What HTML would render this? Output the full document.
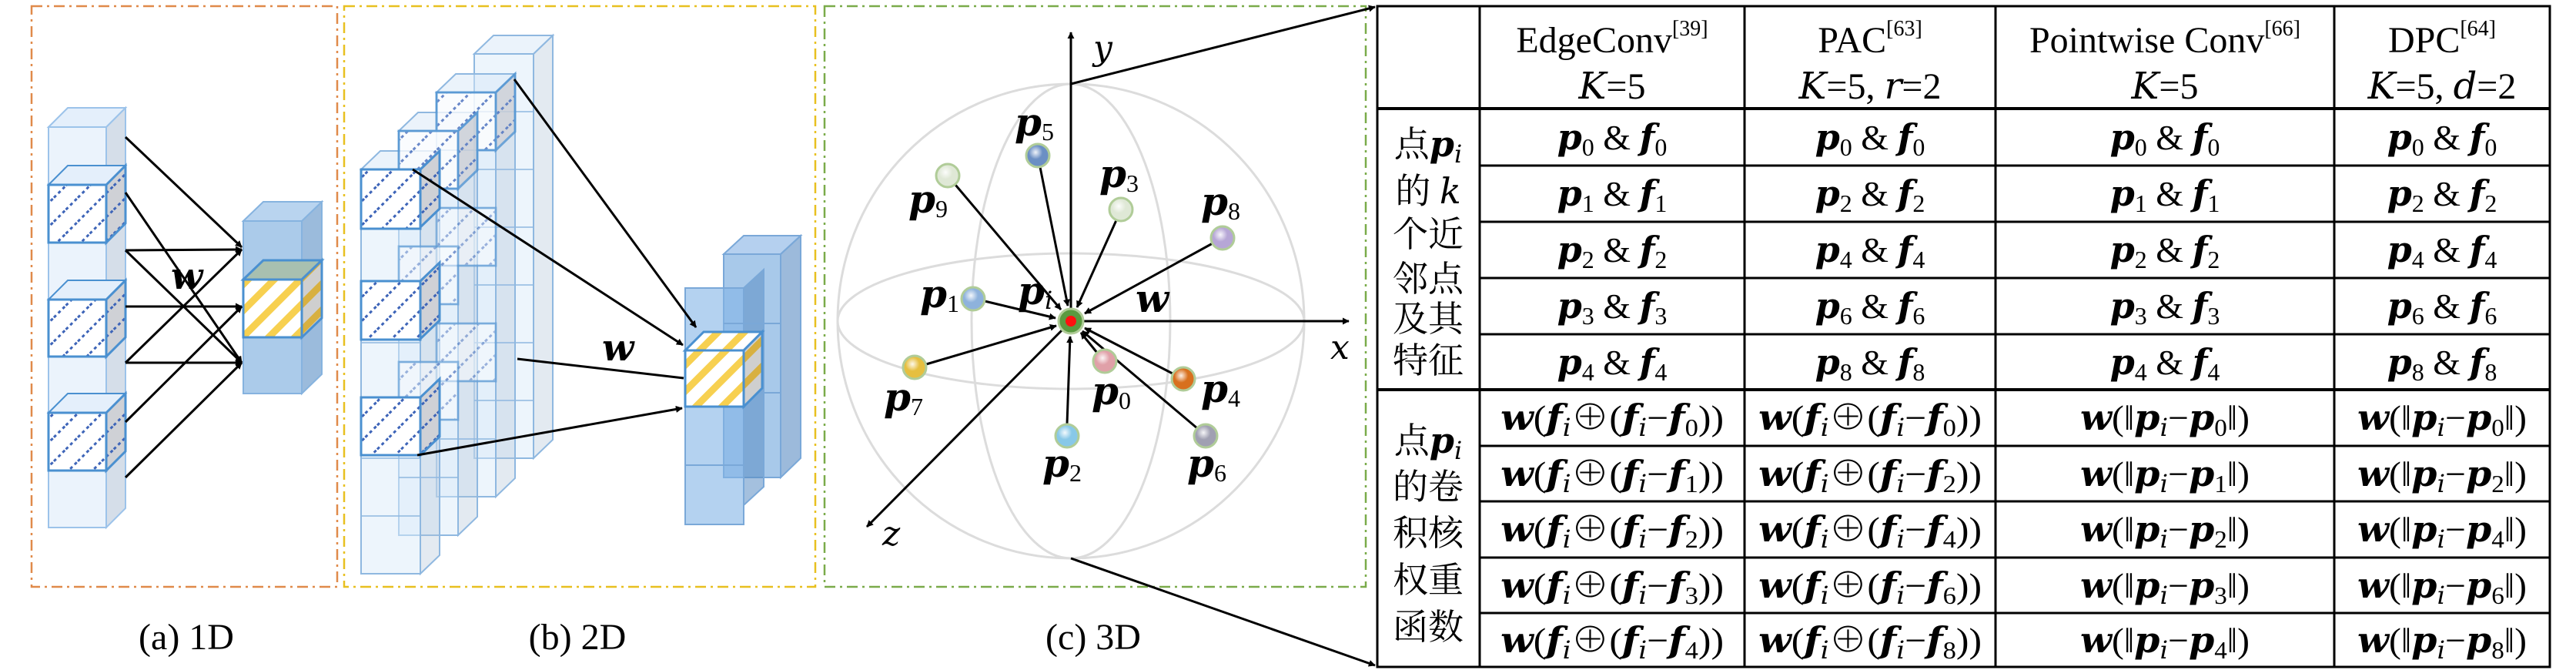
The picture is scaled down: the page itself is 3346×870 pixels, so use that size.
<!DOCTYPE html>
<html><head><meta charset="utf-8"><style>
html,body{margin:0;padding:0;background:#fff}
svg{display:block}
svg, svg text, svg tspan{font-family:"Liberation Serif","Times New Roman","Noto Serif CJK SC",serif}
text{fill:#000}
svg .bi{font-family:"DejaVu Serif","Liberation Serif",serif;font-weight:bold;font-style:italic}
svg .i{font-family:"DejaVu Serif","Liberation Serif",serif;font-style:italic}
.s{font-size:32px}
.cn{font-size:46px}
</style></head><body>
<svg width="3346" height="870" viewBox="0 0 3346 870" xmlns="http://www.w3.org/2000/svg" font-family="Liberation Serif, Times New Roman, Noto Serif CJK SC, serif">
<defs>
<marker id="ah" viewBox="0 0 10 10" refX="9" refY="5" markerWidth="9" markerHeight="9" markerUnits="userSpaceOnUse" orient="auto"><path d="M0,0 L10,5 L0,10 z" fill="#000"/></marker>
<pattern id="hatch" width="22" height="22" patternUnits="userSpaceOnUse" patternTransform="rotate(-45)"><rect width="22" height="22" fill="#fff"/><line x1="0" y1="11" x2="22" y2="11" stroke="#3d64b8" stroke-width="3" stroke-dasharray="4 4"/></pattern>
<pattern id="hatchg" width="22" height="22" patternUnits="userSpaceOnUse" patternTransform="rotate(-45)"><rect width="22" height="22" fill="#cfd1d6"/><line x1="0" y1="11" x2="22" y2="11" stroke="#3d64b8" stroke-width="3" stroke-dasharray="4 4"/></pattern>
<pattern id="yel" width="24" height="24" patternUnits="userSpaceOnUse" patternTransform="rotate(-45)"><rect width="24" height="24" fill="#fff"/><rect y="0" width="24" height="9" fill="#f7d050"/></pattern>
<pattern id="yelg" width="24" height="24" patternUnits="userSpaceOnUse" patternTransform="rotate(-45)"><rect width="24" height="24" fill="#cfcfcf"/><rect y="0" width="24" height="9" fill="#d8b040"/></pattern>
<radialGradient id="g" cx="40%" cy="35%" r="65%"><stop offset="0" stop-color="#fff" stop-opacity=".9"/><stop offset=".5" stop-color="#fff" stop-opacity="0"/></radialGradient>
</defs>

<rect x="41" y="8" width="397" height="754" fill="none" stroke="#e08a4a" stroke-width="2.5" stroke-dasharray="14 6 3 6"/>
<rect x="447" y="8" width="612" height="754" fill="none" stroke="#e8c020" stroke-width="2.5" stroke-dasharray="14 6 3 6"/>
<rect x="1071" y="8" width="703" height="754" fill="none" stroke="#7aab4a" stroke-width="2.5" stroke-dasharray="14 6 3 6"/>

<!-- Panel a -->
<g stroke="#9cc3ea" stroke-width="2">
<polygon points="138,165 163,140 163,660 138,685" fill="#d5dee9"/>
<polygon points="63,165 88,140 163,140 138,165" fill="#e4effb"/>
<rect x="63" y="165" width="75" height="520" fill="#ebf3fc"/>
</g>
<g stroke="#4a90d0" stroke-width="3">
<polygon points="63,240 88,215 163,215 138,240" fill="#e4effb" stroke-width="2"/>
<polygon points="138,240 163,215 163,290 138,315" fill="url(#hatchg)"/>
<rect x="63" y="240" width="75" height="75" fill="url(#hatch)"/>
<polygon points="63,389 88,364 163,364 138,389" fill="#e4effb" stroke-width="2"/>
<polygon points="138,389 163,364 163,438 138,463" fill="url(#hatchg)"/>
<rect x="63" y="389" width="75" height="74" fill="url(#hatch)"/>
<polygon points="63,536 88,511 163,511 138,536" fill="#e4effb" stroke-width="2"/>
<polygon points="138,536 163,511 163,586 138,611" fill="url(#hatchg)"/>
<rect x="63" y="536" width="75" height="75" fill="url(#hatch)"/>
</g>
<g stroke="#86b3df" stroke-width="2">
<polygon points="392,287 418,262 418,486 392,511" fill="#9bbbdc"/>
<polygon points="316,287 342,262 418,262 392,287" fill="#b9d4ef"/>
<rect x="316" y="287" width="76" height="224" fill="#abcbea"/>
</g>
<g stroke="#4a90d0" stroke-width="3">
<polygon points="316,363 342,338 418,338 392,363" fill="#a8c0b0"/>
<polygon points="392,363 418,338 418,413 392,438" fill="url(#yelg)"/>
<rect x="316" y="363" width="76" height="75" fill="url(#yel)"/>
</g>
<g stroke="#000" stroke-width="3" marker-end="url(#ah)">
<line x1="163" y1="178" x2="314" y2="321"/>
<line x1="163" y1="250" x2="314" y2="471"/>
<line x1="163" y1="325" x2="314" y2="324"/>
<line x1="163" y1="325" x2="314" y2="471"/>
<line x1="163" y1="398" x2="314" y2="398"/>
<line x1="163" y1="471" x2="314" y2="471"/>
<line x1="163" y1="471" x2="314" y2="324"/>
<line x1="163" y1="548" x2="314" y2="398"/>
<line x1="163" y1="620" x2="314" y2="471"/>
</g>
<text x="222" y="375" class="bi" font-size="48">w</text>
<text x="242" y="843" font-size="48" text-anchor="middle">(a)  1D</text>

<!-- Panel b -->
<g stroke="#8fb8e0" stroke-width="2">
<polygon points="693,70 718,46 718,571 693,595" fill="rgba(175,195,215,.35)"/>
<polygon points="616,70 641,46 718,46 693,70" fill="rgba(215,232,248,.5)"/>
<rect x="616" y="70" width="77" height="525" fill="rgba(215,232,248,.45)"/>
<polygon points="644,120 669,96 669,621 644,645" fill="rgba(175,195,215,.35)"/>
<polygon points="567,120 592,96 669,96 644,120" fill="rgba(215,232,248,.5)"/>
<rect x="567" y="120" width="77" height="525" fill="rgba(215,232,248,.45)"/>
<polygon points="595,170 620,146 620,671 595,695" fill="rgba(175,195,215,.35)"/>
<polygon points="518,170 543,146 620,146 595,170" fill="rgba(215,232,248,.5)"/>
<rect x="518" y="170" width="77" height="525" fill="rgba(215,232,248,.45)"/>
<polygon points="546,220 571,196 571,721 546,745" fill="rgba(175,195,215,.35)"/>
<polygon points="469,220 494,196 571,196 546,220" fill="rgba(215,232,248,.5)"/>
<rect x="469" y="220" width="77" height="525" fill="rgba(220,235,250,.5)"/>
</g>
<g stroke="#8fb8e0" stroke-width="1.5" fill="none">
<path d="M616,145 h77 M616,220 h77 M616,295 h77 M616,370 h77 M616,445 h77 M616,520 h77"/>
<path d="M567,195 h77 M567,270 h77 M567,345 h77 M567,420 h77 M567,495 h77 M567,570 h77"/>
<path d="M518,245 h77 M518,320 h77 M518,395 h77 M518,470 h77 M518,545 h77 M518,620 h77"/>
<path d="M469,295 h77 M469,370 h77 M469,445 h77 M469,520 h77 M469,595 h77 M469,670 h77"/>
</g>
<g stroke="#4a90d0" stroke-width="3" opacity=".75">
<rect x="567" y="120" width="77" height="75" fill="url(#hatch)"/>
<polygon points="644,120 669,96 669,171 644,195" fill="url(#hatchg)"/>
<rect x="567" y="270" width="77" height="75" fill="url(#hatch)" opacity=".6"/>
<rect x="567" y="420" width="77" height="75" fill="url(#hatch)" opacity=".6"/>
<rect x="518" y="170" width="77" height="75" fill="url(#hatch)"/>
<polygon points="595,170 620,146 620,221 595,245" fill="url(#hatchg)"/>
<rect x="518" y="320" width="77" height="75" fill="url(#hatch)" opacity=".6"/>
<rect x="518" y="470" width="77" height="75" fill="url(#hatch)" opacity=".6"/>
</g>
<g stroke="#4a90d0" stroke-width="3">
<polygon points="546,220 571,196 571,271 546,295" fill="url(#hatchg)"/>
<rect x="469" y="220" width="77" height="77" fill="url(#hatch)"/>
<polygon points="546,365 571,341 571,416 546,440" fill="url(#hatchg)"/>
<rect x="469" y="365" width="77" height="76" fill="url(#hatch)"/>
<polygon points="546,516 571,492 571,567 546,591" fill="url(#hatchg)"/>
<rect x="469" y="516" width="77" height="75" fill="url(#hatch)"/>
</g>
<g stroke="#7aa8d8" stroke-width="2">
<polygon points="940,330 966,306 1040,306 1014,330" fill="rgba(120,170,225,.55)"/>
<polygon points="1014,330 1040,306 1040,595 1014,620" fill="rgba(90,140,195,.6)"/>
<rect x="940" y="330" width="74" height="290" fill="rgba(110,165,220,.6)"/>
<polygon points="966,374 992,350 992,632 966,656" fill="rgba(90,140,195,.55)"/>
<rect x="890" y="374" width="76" height="307" fill="rgba(130,180,230,.6)"/>
<path d="M890,528 h76 M890,604 h76 M940,420 h74 M940,510 h74" fill="none"/>
</g>
<g stroke="#4a90d0" stroke-width="3">
<polygon points="890,455 914,431 990,431 966,455" fill="url(#yel)"/>
<polygon points="966,455 990,431 990,504 966,528" fill="url(#yelg)"/>
<rect x="890" y="455" width="76" height="73" fill="url(#yel)"/>
</g>
<g stroke="#000" stroke-width="3">
<line x1="668" y1="103" x2="904" y2="425" marker-end="url(#ah)"/>
<line x1="536" y1="220" x2="887" y2="448" marker-end="url(#ah)"/>
<line x1="672" y1="466" x2="888" y2="491"/>
<line x1="542" y1="591" x2="886" y2="530" marker-end="url(#ah)"/>
</g>
<text x="782" y="468" class="bi" font-size="48">w</text>
<text x="750" y="843" font-size="48" text-anchor="middle">(b)  2D</text>

<!-- Panel c -->
<g fill="none" stroke="#dcdcdc" stroke-width="3">
<ellipse cx="1391" cy="417" rx="303" ry="308"/>
<ellipse cx="1391" cy="417" rx="303" ry="88"/>
<ellipse cx="1391" cy="417" rx="129" ry="308"/>
</g>
<g stroke="#000" stroke-width="3" marker-end="url(#ah)">
<line x1="1391" y1="417" x2="1391" y2="42"/>
<line x1="1391" y1="417" x2="1752" y2="417"/>
<line x1="1391" y1="417" x2="1126" y2="684"/>
<line x1="1351" y1="217" x2="1387" y2="397"/>
<line x1="1241" y1="240" x2="1378" y2="402"/>
<line x1="1450" y1="286" x2="1399" y2="399"/>
<line x1="1575" y1="316" x2="1409" y2="407"/>
<line x1="1279" y1="391" x2="1371" y2="413"/>
<line x1="1203" y1="473" x2="1372" y2="423"/>
<line x1="1386" y1="551" x2="1390" y2="437"/>
<line x1="1425" y1="458" x2="1404" y2="432"/>
<line x1="1523" y1="485" x2="1409" y2="426"/>
<line x1="1555" y1="556" x2="1406" y2="430"/>
</g>
<g stroke="#b0cc98" stroke-width="3">
<circle cx="1348" cy="202" r="15" fill="#6b8fc4"/>
<circle cx="1231" cy="228" r="15" fill="#dfe8d6"/>
<circle cx="1456" cy="272" r="15" fill="#dfe8d6"/>
<circle cx="1588" cy="309" r="15" fill="#b6a6d6"/>
<circle cx="1264" cy="388" r="15" fill="#8eb2dc"/>
<circle cx="1188" cy="477" r="15" fill="#e6bf40"/>
<circle cx="1435" cy="469" r="15" fill="#e0a0a8"/>
<circle cx="1537" cy="492" r="15" fill="#d8701e"/>
<circle cx="1386" cy="566" r="15" fill="#88c8e8"/>
<circle cx="1566" cy="566" r="15" fill="#a0a0b2"/>
<circle cx="1391" cy="417" r="16" fill="#5a9a40"/>
</g>
<g fill="url(#g)">
<circle cx="1348" cy="202" r="14"/><circle cx="1231" cy="228" r="14"/><circle cx="1456" cy="272" r="14"/><circle cx="1588" cy="309" r="14"/><circle cx="1264" cy="388" r="14"/><circle cx="1188" cy="477" r="14"/><circle cx="1435" cy="469" r="14"/><circle cx="1537" cy="492" r="14"/><circle cx="1386" cy="566" r="14"/><circle cx="1566" cy="566" r="14"/>
</g>
<circle cx="1391" cy="417" r="7" fill="#ff1010"/>
<g font-size="50">
<text x="1318" y="176"><tspan class="bi">p</tspan><tspan class="s" dy="6">5</tspan></text>
<text x="1180" y="276"><tspan class="bi">p</tspan><tspan class="s" dy="6">9</tspan></text>
<text x="1428" y="243"><tspan class="bi">p</tspan><tspan class="s" dy="6">3</tspan></text>
<text x="1560" y="279"><tspan class="bi">p</tspan><tspan class="s" dy="6">8</tspan></text>
<text x="1195" y="399"><tspan class="bi">p</tspan><tspan class="s" dy="6">1</tspan></text>
<text x="1322" y="395"><tspan class="bi">p</tspan><tspan class="s i" dy="6">i</tspan></text>
<text x="1475" y="405" class="bi">w</text>
<text x="1148" y="533"><tspan class="bi">p</tspan><tspan class="s" dy="6">7</tspan></text>
<text x="1418" y="525"><tspan class="bi">p</tspan><tspan class="s" dy="6">0</tspan></text>
<text x="1560" y="522"><tspan class="bi">p</tspan><tspan class="s" dy="6">4</tspan></text>
<text x="1354" y="619"><tspan class="bi">p</tspan><tspan class="s" dy="6">2</tspan></text>
<text x="1542" y="619"><tspan class="bi">p</tspan><tspan class="s" dy="6">6</tspan></text>
<text x="1420" y="77" class="i" font-size="44">y</text>
<text x="1728" y="466" class="i" font-size="44">x</text>
<text x="1146" y="708" class="i" font-size="44">z</text>
</g>
<text x="1420" y="843" font-size="48" text-anchor="middle">(c)  3D</text>
<g stroke="#000" stroke-width="3" marker-end="url(#ah)">
<line x1="1391" y1="109" x2="1786" y2="9"/>
<line x1="1391" y1="725" x2="1786" y2="864"/>
</g>

<!-- Table -->
<g stroke="#000" stroke-width="3" fill="none">
<rect x="1789" y="8" width="1523" height="858"/>
<line x1="1922" y1="8" x2="1922" y2="866"/>
<line x1="2266" y1="8" x2="2266" y2="866"/>
<line x1="2592" y1="8" x2="2592" y2="866"/>
<line x1="3032" y1="8" x2="3032" y2="866"/>
<line x1="1789" y1="141" x2="3312" y2="141" stroke-width="4"/>
<line x1="1789" y1="506" x2="3312" y2="506" stroke-width="4"/>
<path d="M1922,215 H3312 M1922,288 H3312 M1922,361 H3312 M1922,434 H3312 M1922,579 H3312 M1922,651 H3312 M1922,724 H3312 M1922,796 H3312"/>
</g>
<g font-size="48" text-anchor="middle">
<text x="2094" y="68">EdgeConv<tspan font-size="28" dy="-22">[39]</tspan></text>
<text x="2094" y="128"><tspan class="i">K</tspan>=5</text>
<text x="2429" y="68">PAC<tspan font-size="28" dy="-22">[63]</tspan></text>
<text x="2429" y="128"><tspan class="i">K</tspan>=5, <tspan class="i">r</tspan>=2</text>
<text x="2812" y="68">Pointwise Conv<tspan font-size="28" dy="-22">[66]</tspan></text>
<text x="2812" y="128"><tspan class="i">K</tspan>=5</text>
<text x="3172" y="68">DPC<tspan font-size="28" dy="-22">[64]</tspan></text>
<text x="3172" y="128"><tspan class="i">K</tspan>=5, <tspan class="i">d</tspan>=2</text>
</g>
<g class="cn" text-anchor="middle" font-size="46">
<text x="1855" y="203">点<tspan class="bi">p</tspan><tspan class="s i" dy="8">i</tspan></text>
<text x="1855" y="264">的 <tspan class="i">k</tspan></text>
<text x="1855" y="320">个近</text>
<text x="1855" y="378">邻点</text>
<text x="1855" y="430">及其</text>
<text x="1855" y="484">特征</text>
<text x="1855" y="588">点<tspan class="bi">p</tspan><tspan class="s i" dy="8">i</tspan></text>
<text x="1855" y="648">的卷</text>
<text x="1855" y="708">积核</text>
<text x="1855" y="769">权重</text>
<text x="1855" y="830">函数</text>
</g>
<g font-size="46" text-anchor="middle">
<text x="2094" y="194"><tspan class="bi">p</tspan><tspan class="s" dy="8">0</tspan><tspan dy="-8"> &amp; </tspan><tspan class="bi">f</tspan><tspan class="s" dy="8">0</tspan></text>
<text x="2094" y="267"><tspan class="bi">p</tspan><tspan class="s" dy="8">1</tspan><tspan dy="-8"> &amp; </tspan><tspan class="bi">f</tspan><tspan class="s" dy="8">1</tspan></text>
<text x="2094" y="340"><tspan class="bi">p</tspan><tspan class="s" dy="8">2</tspan><tspan dy="-8"> &amp; </tspan><tspan class="bi">f</tspan><tspan class="s" dy="8">2</tspan></text>
<text x="2094" y="413"><tspan class="bi">p</tspan><tspan class="s" dy="8">3</tspan><tspan dy="-8"> &amp; </tspan><tspan class="bi">f</tspan><tspan class="s" dy="8">3</tspan></text>
<text x="2094" y="486"><tspan class="bi">p</tspan><tspan class="s" dy="8">4</tspan><tspan dy="-8"> &amp; </tspan><tspan class="bi">f</tspan><tspan class="s" dy="8">4</tspan></text>
<text x="2429" y="194"><tspan class="bi">p</tspan><tspan class="s" dy="8">0</tspan><tspan dy="-8"> &amp; </tspan><tspan class="bi">f</tspan><tspan class="s" dy="8">0</tspan></text>
<text x="2429" y="267"><tspan class="bi">p</tspan><tspan class="s" dy="8">2</tspan><tspan dy="-8"> &amp; </tspan><tspan class="bi">f</tspan><tspan class="s" dy="8">2</tspan></text>
<text x="2429" y="340"><tspan class="bi">p</tspan><tspan class="s" dy="8">4</tspan><tspan dy="-8"> &amp; </tspan><tspan class="bi">f</tspan><tspan class="s" dy="8">4</tspan></text>
<text x="2429" y="413"><tspan class="bi">p</tspan><tspan class="s" dy="8">6</tspan><tspan dy="-8"> &amp; </tspan><tspan class="bi">f</tspan><tspan class="s" dy="8">6</tspan></text>
<text x="2429" y="486"><tspan class="bi">p</tspan><tspan class="s" dy="8">8</tspan><tspan dy="-8"> &amp; </tspan><tspan class="bi">f</tspan><tspan class="s" dy="8">8</tspan></text>
<text x="2812" y="194"><tspan class="bi">p</tspan><tspan class="s" dy="8">0</tspan><tspan dy="-8"> &amp; </tspan><tspan class="bi">f</tspan><tspan class="s" dy="8">0</tspan></text>
<text x="2812" y="267"><tspan class="bi">p</tspan><tspan class="s" dy="8">1</tspan><tspan dy="-8"> &amp; </tspan><tspan class="bi">f</tspan><tspan class="s" dy="8">1</tspan></text>
<text x="2812" y="340"><tspan class="bi">p</tspan><tspan class="s" dy="8">2</tspan><tspan dy="-8"> &amp; </tspan><tspan class="bi">f</tspan><tspan class="s" dy="8">2</tspan></text>
<text x="2812" y="413"><tspan class="bi">p</tspan><tspan class="s" dy="8">3</tspan><tspan dy="-8"> &amp; </tspan><tspan class="bi">f</tspan><tspan class="s" dy="8">3</tspan></text>
<text x="2812" y="486"><tspan class="bi">p</tspan><tspan class="s" dy="8">4</tspan><tspan dy="-8"> &amp; </tspan><tspan class="bi">f</tspan><tspan class="s" dy="8">4</tspan></text>
<text x="3172" y="194"><tspan class="bi">p</tspan><tspan class="s" dy="8">0</tspan><tspan dy="-8"> &amp; </tspan><tspan class="bi">f</tspan><tspan class="s" dy="8">0</tspan></text>
<text x="3172" y="267"><tspan class="bi">p</tspan><tspan class="s" dy="8">2</tspan><tspan dy="-8"> &amp; </tspan><tspan class="bi">f</tspan><tspan class="s" dy="8">2</tspan></text>
<text x="3172" y="340"><tspan class="bi">p</tspan><tspan class="s" dy="8">4</tspan><tspan dy="-8"> &amp; </tspan><tspan class="bi">f</tspan><tspan class="s" dy="8">4</tspan></text>
<text x="3172" y="413"><tspan class="bi">p</tspan><tspan class="s" dy="8">6</tspan><tspan dy="-8"> &amp; </tspan><tspan class="bi">f</tspan><tspan class="s" dy="8">6</tspan></text>
<text x="3172" y="486"><tspan class="bi">p</tspan><tspan class="s" dy="8">8</tspan><tspan dy="-8"> &amp; </tspan><tspan class="bi">f</tspan><tspan class="s" dy="8">8</tspan></text>

<text x="2094" y="558" textLength="290" lengthAdjust="spacingAndGlyphs"><tspan class="bi">w</tspan>(<tspan class="bi">f</tspan><tspan class="s i" dy="8">i</tspan><tspan dy="-8">⊕(</tspan><tspan class="bi">f</tspan><tspan class="s i" dy="8">i</tspan><tspan dy="-8">−</tspan><tspan class="bi">f</tspan><tspan class="s" dy="8">0</tspan><tspan dy="-8">))</tspan></text>
<text x="2094" y="631" textLength="290" lengthAdjust="spacingAndGlyphs"><tspan class="bi">w</tspan>(<tspan class="bi">f</tspan><tspan class="s i" dy="8">i</tspan><tspan dy="-8">⊕(</tspan><tspan class="bi">f</tspan><tspan class="s i" dy="8">i</tspan><tspan dy="-8">−</tspan><tspan class="bi">f</tspan><tspan class="s" dy="8">1</tspan><tspan dy="-8">))</tspan></text>
<text x="2094" y="703" textLength="290" lengthAdjust="spacingAndGlyphs"><tspan class="bi">w</tspan>(<tspan class="bi">f</tspan><tspan class="s i" dy="8">i</tspan><tspan dy="-8">⊕(</tspan><tspan class="bi">f</tspan><tspan class="s i" dy="8">i</tspan><tspan dy="-8">−</tspan><tspan class="bi">f</tspan><tspan class="s" dy="8">2</tspan><tspan dy="-8">))</tspan></text>
<text x="2094" y="776" textLength="290" lengthAdjust="spacingAndGlyphs"><tspan class="bi">w</tspan>(<tspan class="bi">f</tspan><tspan class="s i" dy="8">i</tspan><tspan dy="-8">⊕(</tspan><tspan class="bi">f</tspan><tspan class="s i" dy="8">i</tspan><tspan dy="-8">−</tspan><tspan class="bi">f</tspan><tspan class="s" dy="8">3</tspan><tspan dy="-8">))</tspan></text>
<text x="2094" y="847" textLength="290" lengthAdjust="spacingAndGlyphs"><tspan class="bi">w</tspan>(<tspan class="bi">f</tspan><tspan class="s i" dy="8">i</tspan><tspan dy="-8">⊕(</tspan><tspan class="bi">f</tspan><tspan class="s i" dy="8">i</tspan><tspan dy="-8">−</tspan><tspan class="bi">f</tspan><tspan class="s" dy="8">4</tspan><tspan dy="-8">))</tspan></text>
<text x="2429" y="558" textLength="290" lengthAdjust="spacingAndGlyphs"><tspan class="bi">w</tspan>(<tspan class="bi">f</tspan><tspan class="s i" dy="8">i</tspan><tspan dy="-8">⊕(</tspan><tspan class="bi">f</tspan><tspan class="s i" dy="8">i</tspan><tspan dy="-8">−</tspan><tspan class="bi">f</tspan><tspan class="s" dy="8">0</tspan><tspan dy="-8">))</tspan></text>
<text x="2429" y="631" textLength="290" lengthAdjust="spacingAndGlyphs"><tspan class="bi">w</tspan>(<tspan class="bi">f</tspan><tspan class="s i" dy="8">i</tspan><tspan dy="-8">⊕(</tspan><tspan class="bi">f</tspan><tspan class="s i" dy="8">i</tspan><tspan dy="-8">−</tspan><tspan class="bi">f</tspan><tspan class="s" dy="8">2</tspan><tspan dy="-8">))</tspan></text>
<text x="2429" y="703" textLength="290" lengthAdjust="spacingAndGlyphs"><tspan class="bi">w</tspan>(<tspan class="bi">f</tspan><tspan class="s i" dy="8">i</tspan><tspan dy="-8">⊕(</tspan><tspan class="bi">f</tspan><tspan class="s i" dy="8">i</tspan><tspan dy="-8">−</tspan><tspan class="bi">f</tspan><tspan class="s" dy="8">4</tspan><tspan dy="-8">))</tspan></text>
<text x="2429" y="776" textLength="290" lengthAdjust="spacingAndGlyphs"><tspan class="bi">w</tspan>(<tspan class="bi">f</tspan><tspan class="s i" dy="8">i</tspan><tspan dy="-8">⊕(</tspan><tspan class="bi">f</tspan><tspan class="s i" dy="8">i</tspan><tspan dy="-8">−</tspan><tspan class="bi">f</tspan><tspan class="s" dy="8">6</tspan><tspan dy="-8">))</tspan></text>
<text x="2429" y="847" textLength="290" lengthAdjust="spacingAndGlyphs"><tspan class="bi">w</tspan>(<tspan class="bi">f</tspan><tspan class="s i" dy="8">i</tspan><tspan dy="-8">⊕(</tspan><tspan class="bi">f</tspan><tspan class="s i" dy="8">i</tspan><tspan dy="-8">−</tspan><tspan class="bi">f</tspan><tspan class="s" dy="8">8</tspan><tspan dy="-8">))</tspan></text>
<text x="2812" y="558" textLength="220" lengthAdjust="spacingAndGlyphs"><tspan class="bi">w</tspan>(‖<tspan class="bi">p</tspan><tspan class="s i" dy="8">i</tspan><tspan dy="-8">−</tspan><tspan class="bi">p</tspan><tspan class="s" dy="8">0</tspan><tspan dy="-8">‖)</tspan></text>
<text x="2812" y="631" textLength="220" lengthAdjust="spacingAndGlyphs"><tspan class="bi">w</tspan>(‖<tspan class="bi">p</tspan><tspan class="s i" dy="8">i</tspan><tspan dy="-8">−</tspan><tspan class="bi">p</tspan><tspan class="s" dy="8">1</tspan><tspan dy="-8">‖)</tspan></text>
<text x="2812" y="703" textLength="220" lengthAdjust="spacingAndGlyphs"><tspan class="bi">w</tspan>(‖<tspan class="bi">p</tspan><tspan class="s i" dy="8">i</tspan><tspan dy="-8">−</tspan><tspan class="bi">p</tspan><tspan class="s" dy="8">2</tspan><tspan dy="-8">‖)</tspan></text>
<text x="2812" y="776" textLength="220" lengthAdjust="spacingAndGlyphs"><tspan class="bi">w</tspan>(‖<tspan class="bi">p</tspan><tspan class="s i" dy="8">i</tspan><tspan dy="-8">−</tspan><tspan class="bi">p</tspan><tspan class="s" dy="8">3</tspan><tspan dy="-8">‖)</tspan></text>
<text x="2812" y="847" textLength="220" lengthAdjust="spacingAndGlyphs"><tspan class="bi">w</tspan>(‖<tspan class="bi">p</tspan><tspan class="s i" dy="8">i</tspan><tspan dy="-8">−</tspan><tspan class="bi">p</tspan><tspan class="s" dy="8">4</tspan><tspan dy="-8">‖)</tspan></text>
<text x="3172" y="558" textLength="220" lengthAdjust="spacingAndGlyphs"><tspan class="bi">w</tspan>(‖<tspan class="bi">p</tspan><tspan class="s i" dy="8">i</tspan><tspan dy="-8">−</tspan><tspan class="bi">p</tspan><tspan class="s" dy="8">0</tspan><tspan dy="-8">‖)</tspan></text>
<text x="3172" y="631" textLength="220" lengthAdjust="spacingAndGlyphs"><tspan class="bi">w</tspan>(‖<tspan class="bi">p</tspan><tspan class="s i" dy="8">i</tspan><tspan dy="-8">−</tspan><tspan class="bi">p</tspan><tspan class="s" dy="8">2</tspan><tspan dy="-8">‖)</tspan></text>
<text x="3172" y="703" textLength="220" lengthAdjust="spacingAndGlyphs"><tspan class="bi">w</tspan>(‖<tspan class="bi">p</tspan><tspan class="s i" dy="8">i</tspan><tspan dy="-8">−</tspan><tspan class="bi">p</tspan><tspan class="s" dy="8">4</tspan><tspan dy="-8">‖)</tspan></text>
<text x="3172" y="776" textLength="220" lengthAdjust="spacingAndGlyphs"><tspan class="bi">w</tspan>(‖<tspan class="bi">p</tspan><tspan class="s i" dy="8">i</tspan><tspan dy="-8">−</tspan><tspan class="bi">p</tspan><tspan class="s" dy="8">6</tspan><tspan dy="-8">‖)</tspan></text>
<text x="3172" y="847" textLength="220" lengthAdjust="spacingAndGlyphs"><tspan class="bi">w</tspan>(‖<tspan class="bi">p</tspan><tspan class="s i" dy="8">i</tspan><tspan dy="-8">−</tspan><tspan class="bi">p</tspan><tspan class="s" dy="8">8</tspan><tspan dy="-8">‖)</tspan></text>
</g>
</svg>
</body></html>
